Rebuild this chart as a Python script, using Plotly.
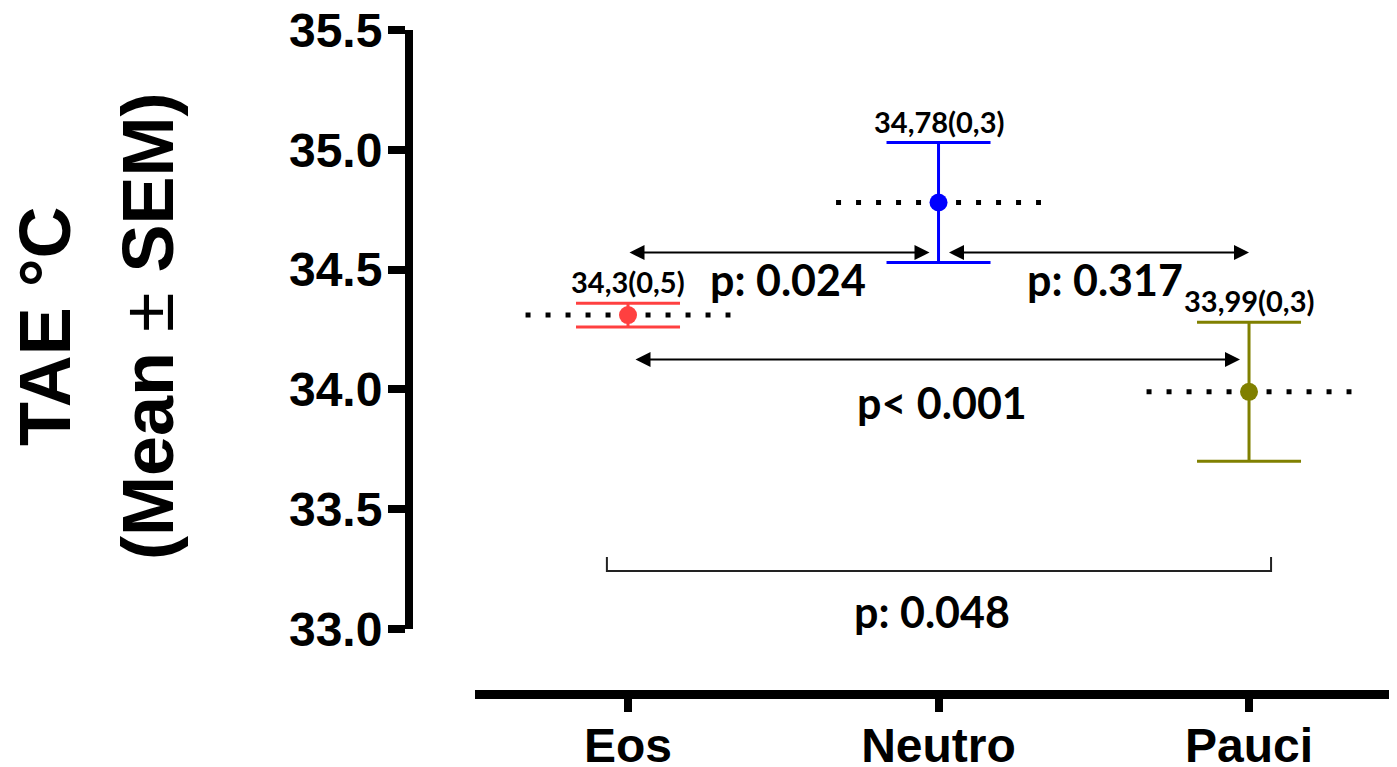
import plotly.graph_objects as go

# ---- data ----
categories = ["Eos", "Neutro", "Pauci"]
means = [34.31, 34.78, 33.99]
sems = [0.05, 0.25, 0.29]
value_labels = ["34,3(0,5)", "34,78(0,3)", "33,99(0,3)"]
colors = ["#FF4040", "#0000FF", "#808000"]

y_ticks = [33.0, 33.5, 34.0, 34.5, 35.0, 35.5]

# pairwise comparisons: (from index, to index)
arrow_pairs = [(0, 1), (1, 2), (0, 2)]
arrow_levels = [34.571, 34.571, 34.125]
arrow_labels = ["p: 0.024", "p: 0.317", "p< 0.001"]
arrow_label_x = [0.515, 1.536, 1.011]
arrow_label_y = [34.458, 34.458, 33.946]

bracket_label = "p: 0.048"
bracket_x = [-0.068, 2.071]
bracket_y = [33.242, 33.30]
bracket_label_pos = (0.979, 33.075)

FONT_AX = "Liberation Sans, Arial, sans-serif"
FONT_LBL = "Lato, Calibri, sans-serif"

# page body has an 8px margin; figure is sized so the page is 1397x767
OFF = 8
FIG_W, FIG_H = 1397 - OFF, 767 - OFF
L = 409 - OFF          # y-axis line (page px 409)
T = 30 - OFF           # 35.5 tick (page px 30)
B = FIG_H - (694 - OFF)  # x-axis line (page px 694)
W = FIG_W - L
H = FIG_H - T - B


def px_x(p):
    return (p - OFF - L) / W


def px_y(p):
    return (FIG_H - B - (p - OFF)) / H


xs = list(range(len(categories)))
fig = go.Figure()

# dotted mean lines
for i, m in enumerate(means):
    fig.add_trace(go.Scatter(
        x=[xs[i] - 0.33, xs[i] + 0.33], y=[m, m], mode="lines",
        line=dict(color="black", width=5, dash="5px,15px"),
        showlegend=False, hoverinfo="skip"))

# means with SEM error bars
for i, m in enumerate(means):
    fig.add_trace(go.Scatter(
        x=[xs[i]], y=[m], mode="markers",
        marker=dict(color=colors[i], size=18),
        error_y=dict(type="data", array=[sems[i]], color=colors[i],
                     thickness=3, width=52),
        showlegend=False))

# bracket
fig.add_trace(go.Scatter(
    x=[bracket_x[0], bracket_x[0], bracket_x[1], bracket_x[1]],
    y=[bracket_y[1], bracket_y[0], bracket_y[0], bracket_y[1]],
    mode="lines", line=dict(color="#222222", width=2),
    showlegend=False, hoverinfo="skip"))

annotations = []
# value labels
for i, m in enumerate(means):
    annotations.append(dict(
        x=xs[i], y=m + sems[i], xref="x", yref="y", text="<b>%s</b>" % value_labels[i],
        showarrow=False, yanchor="bottom", yshift=2,
        font=dict(family=FONT_LBL, size=29, color="black")))

# double arrows
stand = {(0, 1): (0, 9), (1, 2): (9, 0), (0, 2): (6, 9)}
for k, (a, b) in enumerate(arrow_pairs):
    s0, s1 = stand[(a, b)]
    annotations.append(dict(
        x=xs[b], y=arrow_levels[k], ax=xs[a], ay=arrow_levels[k],
        xref="x", yref="y", axref="x", ayref="y", text="",
        showarrow=True, arrowhead=2, startarrowhead=2, arrowside="end+start",
        arrowwidth=2, arrowsize=1.5, startarrowsize=1.5, arrowcolor="black",
        standoff=s1, startstandoff=s0))
    annotations.append(dict(
        x=arrow_label_x[k], y=arrow_label_y[k], xref="x", yref="y",
        text="<b>%s</b>" % arrow_labels[k], showarrow=False,
        font=dict(family=FONT_LBL, size=43, color="black")))

annotations.append(dict(
    x=bracket_label_pos[0], y=bracket_label_pos[1], xref="x", yref="y",
    text="<b>%s</b>" % bracket_label, showarrow=False,
    font=dict(family=FONT_LBL, size=43, color="black")))

# y-axis title (two lines)
annotations.append(dict(
    x=px_x(45), y=px_y(327), xref="paper", yref="paper", text="<b>TAE °C</b>",
    textangle=-90, showarrow=False, xanchor="center", yanchor="middle",
    font=dict(family=FONT_AX, size=72, color="black")))
annotations.append(dict(
    x=px_x(148), y=px_y(326), xref="paper", yref="paper",
    text="<b>(Mean </b><span style='font-weight:normal'>±</span><b> SEM)</b>",
    textangle=-90, showarrow=False, xanchor="center", yanchor="middle",
    font=dict(family=FONT_AX, size=72, color="black")))

fig.update_layout(
    width=FIG_W, height=FIG_H,
    margin=dict(l=L, r=0, t=T, b=B, pad=0),
    plot_bgcolor="white", paper_bgcolor="white",
    annotations=annotations,
    xaxis=dict(
        domain=[(475 - OFF - L) / W, 1], anchor="free", position=0,
        range=[-0.4928, 2.4766], showgrid=False, zeroline=False, automargin=False,
        showline=True, linecolor="black", linewidth=9,
        ticks="outside", ticklen=13, tickwidth=8, tickcolor="black",
        tickvals=xs, ticktext=categories, ticklabeloverflow="allow",
        ticklabelstandoff=-8,
        tickfont=dict(family=FONT_AX, size=48, color="black", weight="bold")),
    yaxis=dict(
        domain=[(694 - 629) / H, 1], anchor="free", position=0,
        range=[33.0, 35.5], showgrid=False, zeroline=False, automargin=False,
        showline=True, linecolor="black", linewidth=8,
        ticks="outside", ticklen=17, tickwidth=8, tickcolor="black",
        tickvals=y_ticks, ticktext=["%.1f" % v for v in y_ticks],
        ticklabeloverflow="allow", ticklabelstandoff=-4,
        tickfont=dict(family=FONT_AX, size=48, color="black", weight="bold")),
)

fig.write_html("out.html")
